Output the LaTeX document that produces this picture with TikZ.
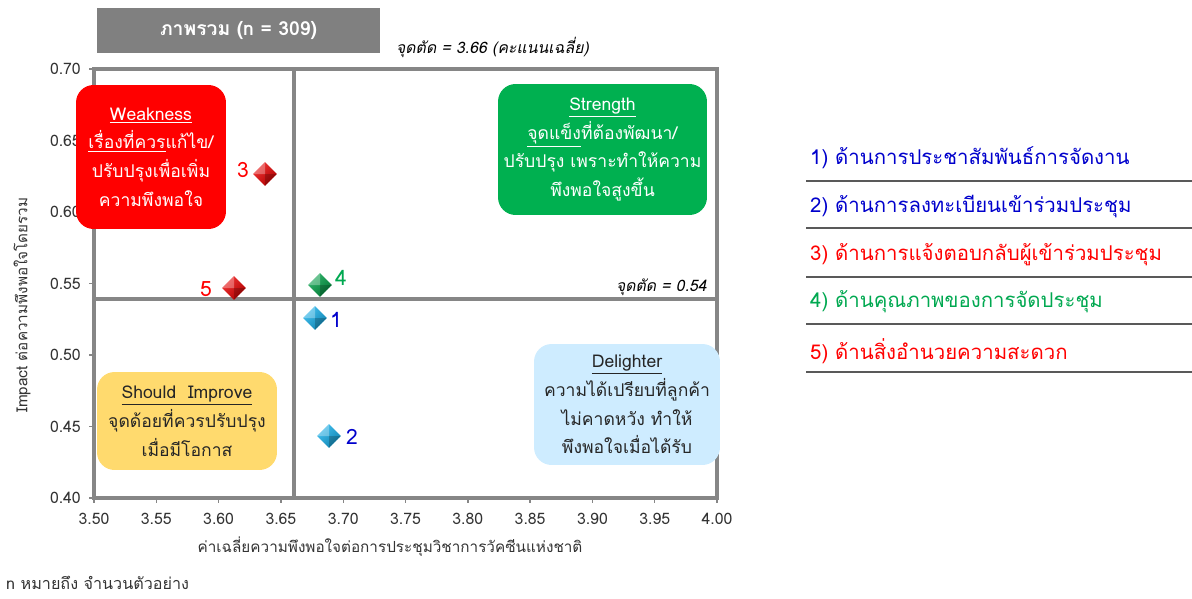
\documentclass[tikz,border=0pt]{standalone}
\usepackage{fontspec}
\setmainfont[Script=Thai]{Loma}
\newfontfamily\slantfont[Script=Thai,FakeSlant=0.2]{Loma}
\usetikzlibrary{shapes.geometric}
\definecolor{framegray}{RGB}{134,134,134}
\definecolor{titlegray}{RGB}{128,128,128}
\definecolor{boxred}{RGB}{255,0,0}
\definecolor{boxgreen}{RGB}{0,176,80}
\definecolor{boxyellow}{RGB}{255,218,110}
\definecolor{boxblue}{RGB}{206,236,255}
\definecolor{legblue}{RGB}{0,0,204}
\definecolor{leggreen}{RGB}{0,168,80}
\definecolor{gemred}{RGB}{235,0,0}
\definecolor{gemgreen}{RGB}{0,160,70}
\definecolor{gemblue}{RGB}{20,175,235}
\begin{document}
\begin{tikzpicture}[x=0.02cm,y=-0.02cm,
  axisline/.style={line width=2pt,framegray},
  tickline/.style={line width=0.8pt,framegray},
  ticklab/.style={font=\fontsize{9}{10}\selectfont,text=black!80},
  axtitle/.style={font=\fontsize{8.7}{11}\selectfont,text=black!80},
  quadbox/.style={rounded corners=10pt,align=center,inner sep=0pt,
    font=\fontsize{10}{16.4}\selectfont},
  gem/.style={diamond,minimum width=0.48cm,minimum height=0.48cm,inner sep=0pt,
    top color=#1!80!white,bottom color=#1!75!black,shading angle=45,
    path picture={
      \fill[white,opacity=.3] (path picture bounding box.center) -- (path picture bounding box.north)
        -- (path picture bounding box.west) -- cycle;
      \fill[black,opacity=.2] (path picture bounding box.center) -- (path picture bounding box.south)
        -- (path picture bounding box.east) -- cycle;}},
  ptlab/.style={font=\fontsize{12}{12}\selectfont},
  legline/.style={line width=1.1pt,black!65},
  legtext/.style={anchor=west,font=\fontsize{11.6}{14}\selectfont}]
\useasboundingbox (0,0) rectangle (1192,598);

% title and cut notes
\node[fill=titlegray,text=white,minimum width=5.66cm,minimum height=0.9cm,
  font=\fontsize{11}{12}\selectfont\bfseries] (title) at (238.5,30.5) {ภาพรวม (n = 309)};
\node[font=\fontsize{9}{11}\slantfont,anchor=west] (cutx) at (390,47) {จุดตัด = 3.66 (คะแนนเฉลี่ย)};
\node[font=\fontsize{9}{11}\slantfont,anchor=east] (cuty) at (713,287) {จุดตัด = 0.54};

% frame, cut lines and ticks
\draw[axisline] (94,69) rectangle (717,498);
\draw[axisline] (294,69) -- (294,498);
\draw[axisline] (94,299) -- (717,299);
\foreach \lab [count=\i from 0] in {3.50,3.55,3.60,3.65,3.70,3.75,3.80,3.85,3.90,3.95,4.00} {
  \draw[tickline] ({94+62.3*\i},498) -- ++(0,5);
  \node[ticklab] (xt\i) at ({94+62.3*\i},519) {\lab};
}
\foreach \lab [count=\j from 0] in {0.40,0.45,0.50,0.55,0.60,0.65,0.70} {
  \draw[tickline] (94,{498-71.5*\j}) -- ++(-5,0);
  \node[ticklab,anchor=east] (yt\j) at (87,{498-71.5*\j}) {\lab};
}
\node[axtitle] (xtitle) at (390,547) {ค่าเฉลี่ยความพึงพอใจต่อการประชุมวิชาการวัคซีนแห่งชาติ};
\node[axtitle,rotate=90] (ytitle) at (22,305) {Impact ต่อความพึงพอใจโดยรวม};
\node[axtitle,anchor=west,font=\fontsize{9.2}{11}\selectfont] (note) at (0,583) {n หมายถึง จำนวนตัวอย่าง};

% quadrant boxes
\node[quadbox,fill=boxred,text=white,minimum width=3cm,minimum height=2.88cm] (weak) at (151,157)
  {\underline{Weakness}\\\underline{เรื่องที่ควร}แก้ไข/\\ปรับปรุงเพื่อเพิ่ม\\ความพึงพอใจ};
\node[quadbox,fill=boxgreen,text=white,minimum width=4.18cm,minimum height=2.62cm] (strong) at (602.5,149.5)
  {\underline{Strength}\\\underline{จุดแข็ง}ที่ต้องพัฒนา/\\ปรับปรุง เพราะทำให้ความ\\พึงพอใจสูงขึ้น};
\node[quadbox,fill=boxyellow,text=black!85,minimum width=3.6cm,minimum height=1.96cm] (improve) at (187,421)
  {\underline{Should\ \ Improve}\\จุดด้อยที่ควรปรับปรุง\\เมื่อมีโอกาส};
\node[quadbox,fill=boxblue,text=black!85,minimum width=3.72cm,minimum height=2.42cm] (delight) at (627,404.5)
  {\underline{Delighter}\\ความได้เปรียบที่ลูกค้า\\ไม่คาดหวัง ทำให้\\พึงพอใจเมื่อได้รับ};

% points
\node[gem=gemred] (g3) at (265,174) {};
\node[gem=gemred] (g5) at (234,288) {};
\node[gem=gemgreen] (g4) at (320,285) {};
\node[gem=gemblue] (g1) at (315,318) {};
\node[gem=gemblue] (g2) at (329,436) {};
\node[ptlab,text=red] (l3) at (243,170) {3};
\node[ptlab,text=red] (l5) at (206,289) {5};
\node[ptlab,text=leggreen] (l4) at (341,278) {4};
\node[ptlab,text=legblue] (l1) at (336,320) {1};
\node[ptlab,text=legblue] (l2) at (352,437) {2};

% legend
\node[legtext,text=legblue] (leg1) at (804,158) {1) ด้านการประชาสัมพันธ์การจัดงาน};
\node[legtext,text=legblue] (leg2) at (804,207) {2) ด้านการลงทะเบียนเข้าร่วมประชุม};
\node[legtext,text=red] (leg3) at (804,255) {3) ด้านการแจ้งตอบกลับผู้เข้าร่วมประชุม};
\node[legtext,text=leggreen] (leg4) at (804,302) {4) ด้านคุณภาพของการจัดประชุม};
\node[legtext,text=red] (leg5) at (804,351) {5) ด้านสิ่งอำนวยความสะดวก};
\foreach \yy in {181,228,277,324,372}
  \draw[legline] (806,\yy) -- (1192,\yy);
\end{tikzpicture}
\end{document}
